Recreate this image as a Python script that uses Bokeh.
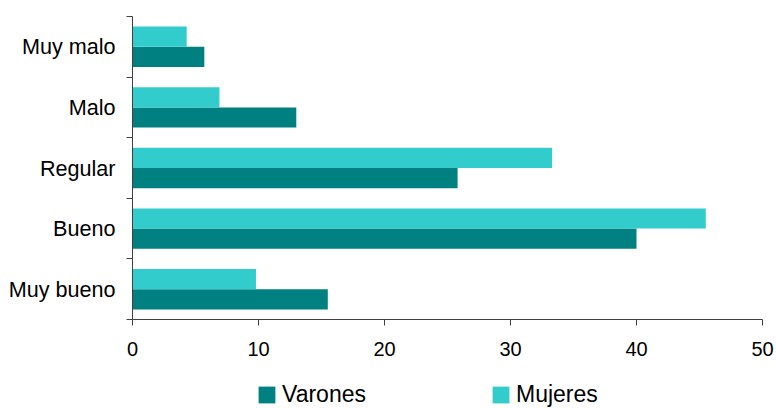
from bokeh.plotting import figure
from bokeh.layouts import column
from bokeh.models import Range1d, FixedTicker, Legend, LegendItem, ColumnDataSource
from bokeh.embed import file_html
from bokeh.resources import INLINE

categories = ["Muy malo", "Malo", "Regular", "Bueno", "Muy bueno"]
varones = [5.7, 13.0, 25.8, 40.0, 15.5]
mujeres = [4.3, 6.9, 33.3, 45.5, 9.8]
x_ticks = [0, 10, 20, 30, 40, 50]

BAR = 1.0 / 3
centers = [i + 0.5 for i in range(len(categories))]

src = ColumnDataSource(dict(
    cat=categories,
    y_muj=[c - BAR / 2 for c in centers],
    y_var=[c + BAR / 2 for c in centers],
    varones=varones,
    mujeres=mujeres,
))

VAR_COLOR = "#008080"
MUJ_COLOR = "#33CCCC"

p = figure(frame_width=630, frame_height=303, output_backend="svg", toolbar_location=None,
           x_range=Range1d(0, 50), y_range=Range1d(len(categories), 0),
           min_border_left=132, min_border_right=14, min_border_top=16, min_border_bottom=45)
p.outline_line_color = None
p.xgrid.visible = False
p.ygrid.visible = False
p.background_fill_color = "white"
p.border_fill_color = "white"

p.hbar(y="y_var", right="varones", left=0, height=BAR, source=src,
       fill_color=VAR_COLOR, line_color=None)
p.hbar(y="y_muj", right="mujeres", left=0, height=BAR, source=src,
       fill_color=MUJ_COLOR, line_color=None)

AX = "#404040"
xa = p.xaxis[0]
xa.ticker = FixedTicker(ticks=x_ticks)
xa.axis_line_color = AX
xa.major_tick_line_color = AX
xa.major_tick_out = 6
xa.major_tick_in = 0
xa.minor_tick_line_color = None
xa.major_label_text_font = "Liberation Sans"
xa.major_label_text_font_size = "20px"
xa.major_label_text_color = "black"
xa.major_label_standoff = 16

ya = p.yaxis[0]
ya.ticker = FixedTicker(ticks=centers, minor_ticks=list(range(len(categories) + 1)))
ya.major_label_overrides = {c: cat for c, cat in zip(centers, categories)}
ya.axis_line_color = AX
ya.major_tick_line_color = None
ya.major_tick_out = 0
ya.major_tick_in = 0
ya.minor_tick_line_color = AX
ya.minor_tick_out = 6
ya.minor_tick_in = 0
ya.major_label_text_font = "Liberation Sans"
ya.major_label_text_font_size = "21.6px"
ya.major_label_text_color = "black"
ya.major_label_standoff = 11

# Legend strip below the chart (bars here fall outside its range; only the legend shows)
p2 = figure(width=776, height=44, output_backend="svg", toolbar_location=None,
            x_range=Range1d(0, 50), y_range=Range1d(100, 101),
            x_axis_location=None, y_axis_location=None,
            min_border_left=0, min_border_right=0, min_border_top=0, min_border_bottom=0)
p2.outline_line_color = None
p2.xgrid.visible = False
p2.ygrid.visible = False
p2.background_fill_color = "white"
p2.border_fill_color = "white"
l_var = p2.hbar(y="y_var", right="varones", left=0, height=BAR, source=src,
                fill_color=VAR_COLOR, line_color=None)
l_muj = p2.hbar(y="y_muj", right="mujeres", left=0, height=BAR, source=src,
                fill_color=MUJ_COLOR, line_color=None)

legend = Legend(items=[LegendItem(label="Varones", renderers=[l_var]),
                       LegendItem(label="Mujeres", renderers=[l_muj])],
                location=(124, 0), orientation="horizontal",
                glyph_width=21, glyph_height=21, label_standoff=5, spacing=86,
                label_width=122,
                padding=0, margin=0, border_line_color=None, background_fill_alpha=0,
                label_text_font="Liberation Sans", label_text_font_size="23px",
                label_text_color="black")
p2.add_layout(legend, "center")

layout = column(p, p2, spacing=0)
open("out.html", "w").write(file_html(layout, INLINE))
